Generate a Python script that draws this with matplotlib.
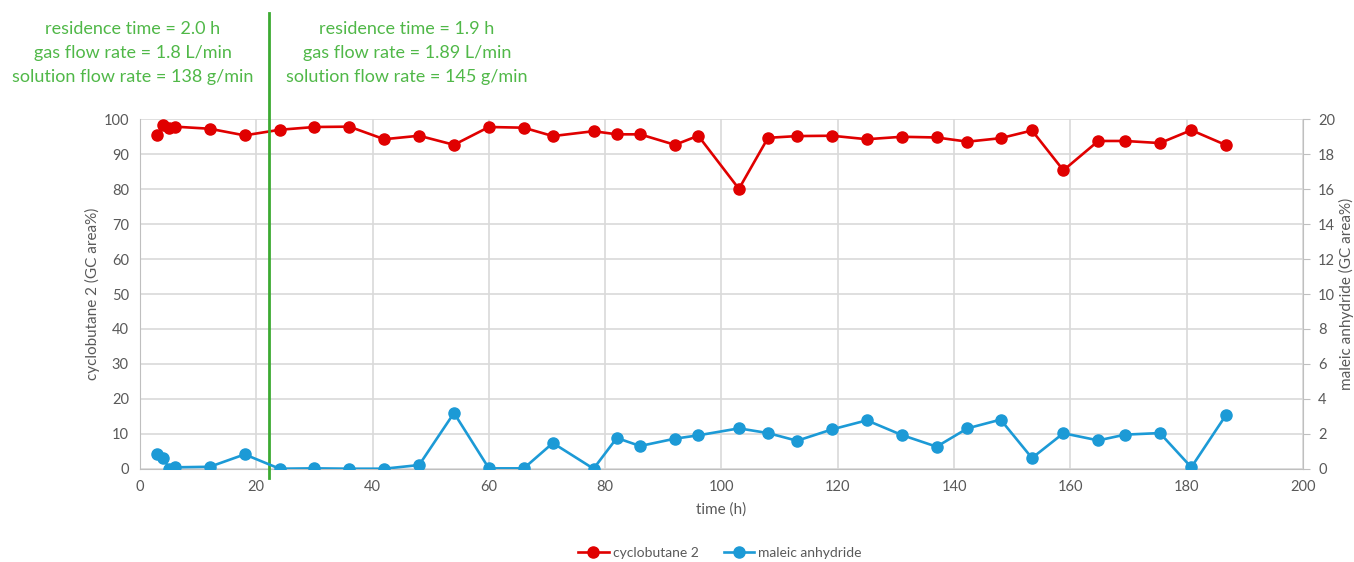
import numpy as np
import matplotlib
matplotlib.use('Agg')
import matplotlib.pyplot as plt

plt.rcParams['font.family'] = ['Lato', 'DejaVu Sans']

# time (h) for each sample
time_h = [3, 4, 5, 6, 12, 18, 24, 30, 36, 42, 48, 54, 60, 66, 71, 78, 82, 86,
          92, 96, 103, 108, 113, 119, 125, 131, 137, 142.3, 148, 153.4, 158.8,
          164.8, 169.4, 175.4, 180.8, 186.8]
cyclobutane = [95.5, 98.4, 97.6, 97.9, 97.3, 95.4, 97.0, 97.8, 97.9, 94.3, 95.3,
               92.7, 97.8, 97.6, 95.2, 96.6, 95.7, 95.7, 92.7, 95.3, 80.1, 94.7,
               95.2, 95.3, 94.3, 95.0, 94.8, 93.6, 94.6, 96.8, 85.4, 93.8, 93.8,
               93.2, 96.9, 92.6]
maleic = [0.82, 0.63, 0.0, 0.08, 0.11, 0.82, 0.0, 0.02, 0.0, 0.0, 0.21, 3.19,
          0.02, 0.02, 1.47, 0.0, 1.76, 1.30, 1.72, 1.91, 2.31, 2.04, 1.60, 2.25,
          2.77, 1.93, 1.26, 2.31, 2.81, 0.61, 2.03, 1.62, 1.95, 2.04, 0.08, 3.09]

switch_t = 22.1
left_text = ['residence time = 2.0 h', 'gas flow rate = 1.8 L/min',
             'solution flow rate = 138 g/min']
right_text = ['residence time = 1.9 h', 'gas flow rate = 1.89 L/min',
              'solution flow rate = 145 g/min']

red = '#E00000'
blue = '#1C9AD6'
grid_c = '#D9D9D9'
txt_c = '#595959'
green_line = '#3CAA32'
green_txt = '#50B848'

fig = plt.figure(figsize=(13.54, 5.62), dpi=100)
ax = fig.add_axes([0.1034, 0.166, 0.8589, 0.6217])
ax2 = ax.twinx()

l1, = ax.plot(time_h, cyclobutane, color=red, lw=1.9, marker='o', ms=8,
              label='cyclobutane 2', zorder=3)
l2, = ax2.plot(time_h, maleic, color=blue, lw=1.9, marker='o', ms=8,
               label='maleic anhydride', zorder=3)

ax.set_xlim(0, 200)
ax.set_ylim(0, 100)
ax2.set_ylim(0, 20)
ax.set_xticks(np.arange(0, 201, 20))
ax.set_yticks(np.arange(0, 101, 10))
ax2.set_yticks(np.arange(0, 21, 2))
ax.grid(True, color=grid_c, lw=1.2)
ax.set_axisbelow(True)

for a in (ax, ax2):
    for s in a.spines.values():
        s.set_visible(False)
    a.tick_params(labelsize=10.5, colors=txt_c)
ax.spines['bottom'].set_visible(True)
ax.spines['bottom'].set_color('#BFBFBF')
ax.spines['left'].set_visible(True)
ax.spines['left'].set_color('#BFBFBF')
ax2.spines['right'].set_visible(True)
ax2.spines['right'].set_color('#BFBFBF')
ax.tick_params(axis='both', length=0, pad=8)
ax2.tick_params(axis='y', length=5, color='#BFBFBF', pad=6)

ax.set_xlabel('time (h)', fontsize=11, color=txt_c, labelpad=6)
ax.set_ylabel('cyclobutane 2 (GC area%)', fontsize=11, color=txt_c)
ax2.set_ylabel('maleic anhydride (GC area%)', fontsize=11, color=txt_c,
               rotation=90)
ax.yaxis.set_label_coords(-0.034, 0.5)
ax2.yaxis.set_label_coords(1.031, 0.5)

ax.axvline(switch_t, ymin=-0.027, ymax=1.304, color=green_line, lw=2,
           clip_on=False, zorder=5)

fig.text(133 / 1354, 1 - 53 / 562, '\n'.join(left_text), ha='center', va='center',
         fontsize=13, color=green_txt, linespacing=1.6)
fig.text(407 / 1354, 1 - 53 / 562, '\n'.join(right_text), ha='center', va='center',
         fontsize=13, color=green_txt, linespacing=1.6)

fig.legend(handles=[l1, l2], loc='center', bbox_to_anchor=(720 / 1354, 1 - 553 / 562),
           ncol=2, frameon=False, fontsize=10, labelcolor=txt_c,
           handlelength=2.2, handletextpad=0.3, columnspacing=1.8)

fig.savefig('out.png', dpi=100)
